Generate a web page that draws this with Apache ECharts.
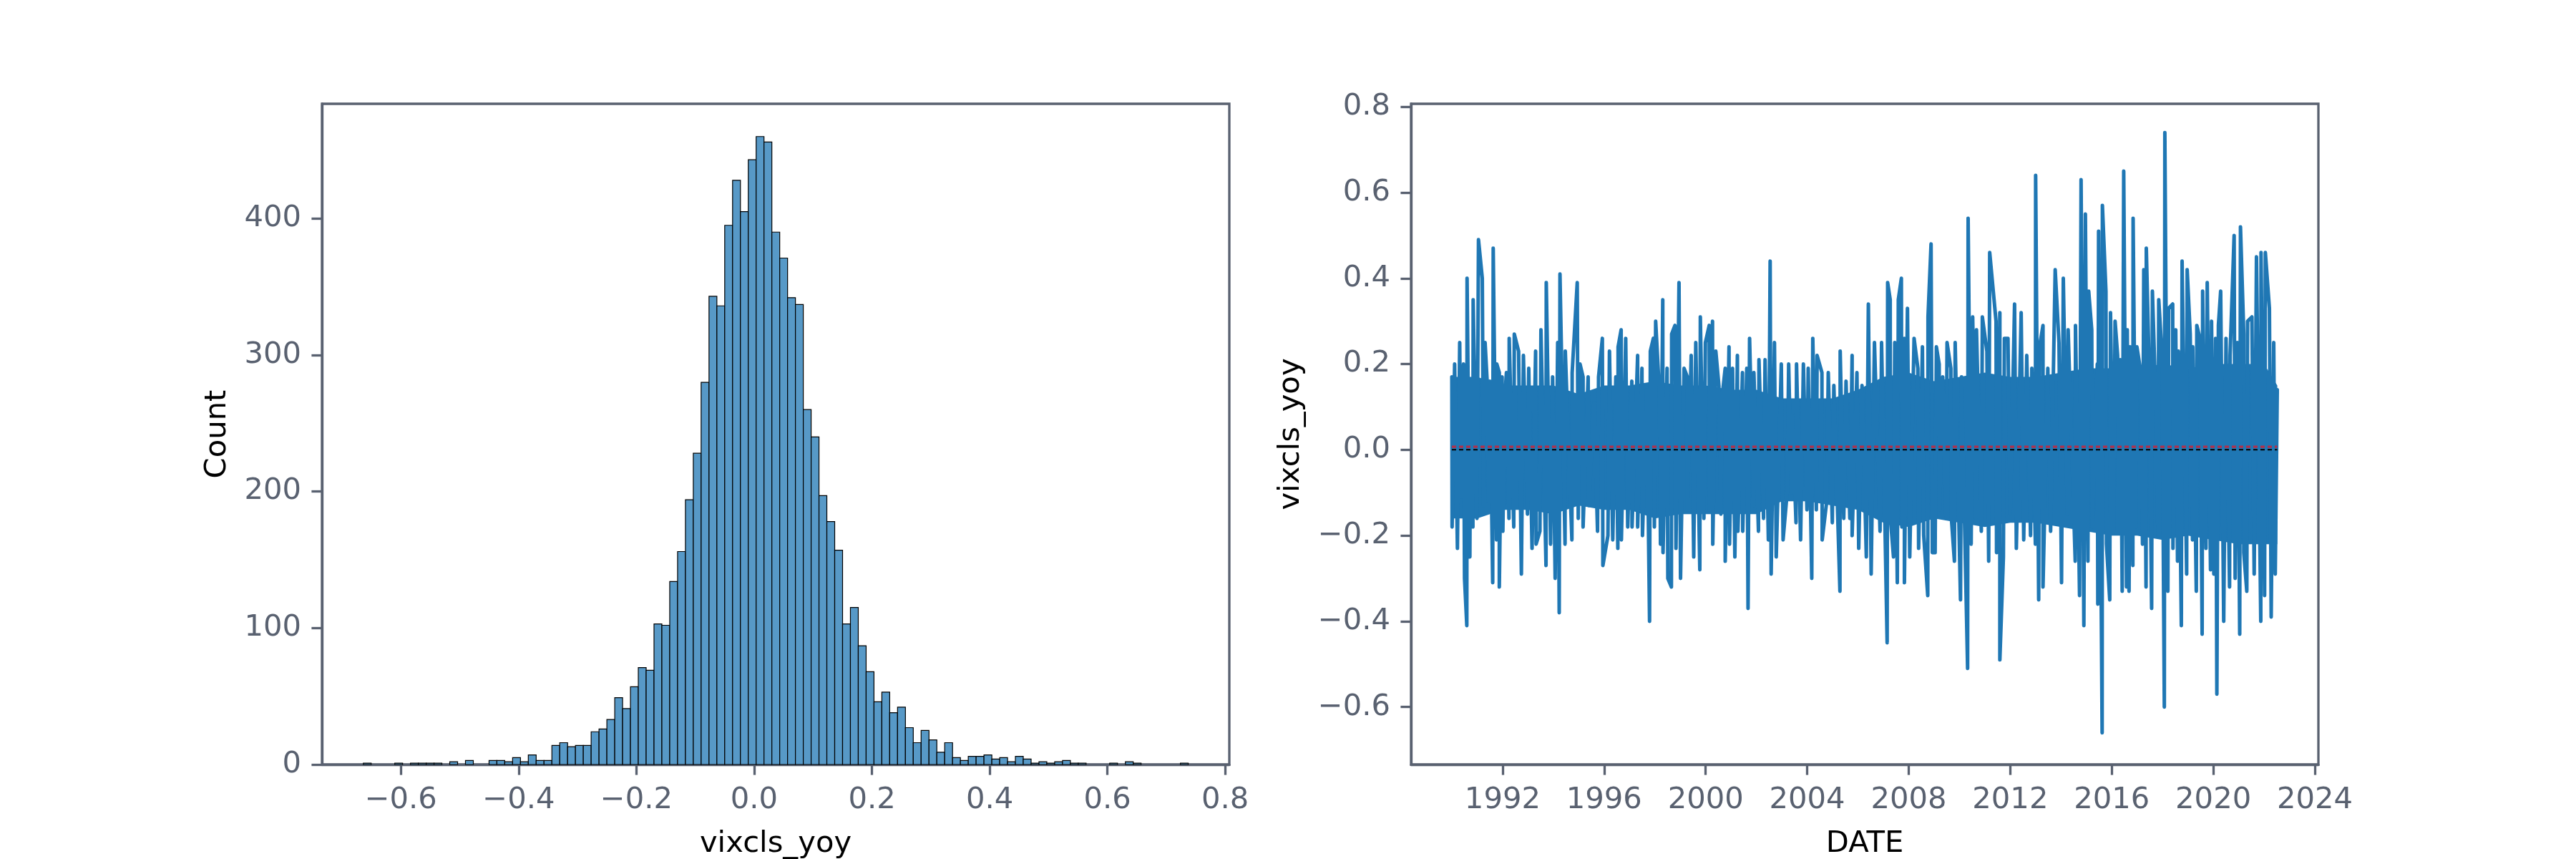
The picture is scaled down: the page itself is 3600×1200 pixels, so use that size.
<!DOCTYPE html>
<html><head><meta charset="utf-8">
<script src="https://cdn.jsdelivr.net/npm/echarts@6/dist/echarts.min.js"></script>
<style>html,body{margin:0;padding:0;background:#fff}#c{width:3600px;height:1200px}</style>
</head><body><div id="c"></div>
<script>
// ---------- histogram data (left panel) ----------
const histBinStart = -0.6638;
const histBinWidth = 0.013343;
const histCounts = [1,0,0,0,1,0,1,1,1,1,0,2,0,3,0,0,3,3,2,5,2,7,3,3,14,16,13,14,14,24,
  26,33,49,41,57,71,69,103,102,134,156,194,228,280,343,336,395,428,405,443,
  460,456,390,371,342,337,260,240,197,178,157,103,115,87,68,46,53,38,42,27,
  16,25,18,9,16,5,3,6,6,7,4,5,2,6,4,1,2,1,2,3,1,1,0,0,0,1,0,2,1,0,0,0,0,0,1];
const histXTicks = [-0.6,-0.4,-0.2,0,0.2,0.4,0.6,0.8];
const histYTicks = [0,100,200,300,400];

// ---------- time series (right panel) ----------
const yearTicks = [1992,1996,2000,2004,2008,2012,2016,2020,2024];
const yoyTicks = [-0.6,-0.4,-0.2,0,0.2,0.4,0.6,0.8];
// spike extremes: [decimal year, value]
const peakPoints = [
[1990.00,0.17],[1990.11,0.20],[1990.31,0.25],[1990.46,0.20],[1990.60,0.40],[1990.74,0.16],[1990.84,0.35],[1991.05,0.49],[1991.20,0.40],[1991.31,0.25],[1991.40,0.15],[1991.50,0.16],[1991.63,0.47],[1991.77,0.20],[1991.87,0.18],[1991.98,0.17],[1992.08,0.11],[1992.15,0.18],[1992.26,0.26],[1992.46,0.27],[1992.63,0.23],[1992.82,0.22],[1993.03,0.19],[1993.30,0.23],[1993.51,0.28],[1993.72,0.39],[1993.97,0.17],[1994.17,0.25],[1994.26,0.41],[1994.47,0.23],[1994.74,0.18],[1994.94,0.39],[1995.05,0.20],[1995.17,0.17],[1995.37,0.17],[1995.60,0.11],[1995.78,0.17],[1995.93,0.26],[1996.21,0.23],[1996.46,0.17],[1996.55,0.24],[1996.67,0.28],[1996.85,0.26],[1997.09,0.16],[1997.32,0.22],[1997.49,0.19],
[1997.68,0.14],[1997.82,0.23],[1997.94,0.26],[1998.03,0.30],[1998.18,0.13],[1998.31,0.35],[1998.48,0.19],[1998.66,0.27],[1998.79,0.29],[1998.95,0.39],[1999.15,0.19],[1999.28,0.17],[1999.43,0.22],[1999.61,0.25],[1999.79,0.31],[1999.99,0.25],[2000.14,0.29],[2000.27,0.30],[2000.40,0.23],[2000.52,0.15],[2000.64,0.12],[2000.77,0.19],[2000.92,0.24],[2001.06,0.19],[2001.25,0.22],[2001.45,0.18],[2001.62,0.19],[2001.73,0.26],[2001.90,0.18],[2002.10,0.21],[2002.34,0.21],[2002.54,0.44],[2002.71,0.25],[2002.98,0.20],[2003.27,0.20],[2003.41,0.08],[2003.58,0.20],[2003.85,0.20],[2004.04,0.19],[2004.22,0.26],[2004.39,0.22],[2004.58,0.18],[2004.83,0.18],[2005.05,0.15],[2005.30,0.23],[2005.53,0.16],[2005.77,0.22],[2005.96,0.18],[2006.16,0.15],[2006.41,0.34],[2006.65,0.25],
[2006.93,0.25],[2007.17,0.39],[2007.27,0.35],[2007.45,0.25],[2007.59,0.35],[2007.71,0.40],[2007.83,0.26],[2007.95,0.33],[2008.21,0.26],[2008.36,0.19],[2008.54,0.24],[2008.76,0.31],[2008.88,0.48],[2009.09,0.24],[2009.20,0.20],[2009.34,0.17],[2009.51,0.25],[2009.66,0.19],[2009.83,0.25],[2010.08,0.17],[2010.34,0.54],[2010.52,0.31],[2010.67,0.28],[2010.90,0.31],[2011.08,0.23],[2011.19,0.46],[2011.44,0.30],[2011.59,0.32],[2011.77,0.26],[2011.91,0.26],[2012.17,0.34],[2012.43,0.32],[2012.65,0.22],[2012.85,0.19],[2013.00,0.64],[2013.15,0.24],[2013.29,0.29],[2013.48,0.19],[2013.77,0.42],[2013.92,0.25],[2014.09,0.40],[2014.28,0.28],[2014.57,0.29],[2014.79,0.63],[2014.96,0.55],[2015.09,0.37],[2015.21,0.28],[2015.43,0.20],[2015.48,0.51],[2015.63,0.57],[2015.77,0.37],[2015.95,0.32],[2016.13,0.30],
[2016.23,0.22],[2016.34,0.21],[2016.47,0.65],[2016.61,0.28],[2016.72,0.24],[2016.84,0.54],[2016.99,0.24],[2017.12,0.19],[2017.26,0.42],[2017.36,0.47],[2017.46,0.22],[2017.60,0.37],[2017.71,0.16],[2017.85,0.35],[2017.98,0.22],[2018.09,0.74],[2018.24,0.33],[2018.40,0.34],[2018.52,0.28],[2018.62,0.23],[2018.77,0.44],[2018.97,0.42],[2019.09,0.27],[2019.19,0.24],[2019.35,0.29],[2019.47,0.26],[2019.58,0.37],[2019.76,0.39],[2019.93,0.30],[2020.09,0.26],[2020.20,0.29],[2020.29,0.37],[2020.50,0.26],[2020.66,0.22],[2020.82,0.50],[2020.95,0.25],[2021.07,0.52],[2021.20,0.27],[2021.35,0.30],[2021.52,0.31],[2021.70,0.45],[2021.88,0.46],[2022.05,0.46],[2022.21,0.33],[2022.38,0.25],[2022.52,0.14]
];
const troughPoints = [
[1990.01,-0.18],[1990.22,-0.23],[1990.36,-0.11],[1990.50,-0.30],[1990.59,-0.41],[1990.71,-0.25],[1990.83,-0.18],[1990.99,-0.16],[1991.25,-0.13],[1991.44,-0.12],[1991.61,-0.31],[1991.76,-0.21],[1991.87,-0.32],[1992.01,-0.19],[1992.25,-0.16],[1992.44,-0.18],[1992.74,-0.29],[1992.98,-0.15],[1993.16,-0.23],[1993.32,-0.22],[1993.47,-0.19],[1993.71,-0.27],[1993.89,-0.22],[1994.07,-0.30],[1994.23,-0.38],[1994.46,-0.22],[1994.73,-0.21],[1994.98,-0.16],[1995.17,-0.18],[1995.40,-0.13],[1995.74,-0.19],[1995.95,-0.27],[1996.15,-0.20],[1996.34,-0.21],[1996.54,-0.23],[1996.68,-0.21],[1996.93,-0.18],[1997.10,-0.18],[1997.32,-0.18],[1997.51,-0.20],
[1997.56,-0.20],[1997.79,-0.40],[1997.98,-0.18],[1998.22,-0.22],[1998.32,-0.24],[1998.51,-0.30],[1998.65,-0.32],[1998.83,-0.23],[1999.01,-0.30],[1999.28,-0.14],[1999.53,-0.25],[1999.77,-0.28],[1999.93,-0.16],[2000.15,-0.14],[2000.28,-0.22],[2000.60,-0.15],[2000.77,-0.26],[2000.94,-0.22],[2001.15,-0.25],[2001.27,-0.19],[2001.46,-0.19],[2001.67,-0.37],[2001.89,-0.13],[2002.08,-0.19],[2002.28,-0.16],[2002.47,-0.21],[2002.58,-0.29],[2002.78,-0.25],[2003.05,-0.21],[2003.21,-0.10],[2003.38,-0.10],[2003.56,-0.17],[2003.74,-0.21],[2003.99,-0.14],[2004.18,-0.30],[2004.36,-0.14],[2004.59,-0.21],[2004.77,-0.12],[2004.99,-0.17],[2005.29,-0.33],[2005.44,-0.16],[2005.68,-0.16],[2005.77,-0.20],[2006.03,-0.23],[2006.33,-0.25],[2006.52,-0.29],[2006.87,-0.19],
[2007.15,-0.45],[2007.28,-0.16],[2007.40,-0.25],[2007.55,-0.31],[2007.73,-0.18],[2007.83,-0.31],[2008.04,-0.25],[2008.39,-0.23],[2008.59,-0.20],[2008.75,-0.34],[2008.93,-0.24],[2009.04,-0.24],[2009.22,-0.14],[2009.47,-0.16],[2009.67,-0.15],[2009.80,-0.26],[2010.04,-0.35],[2010.32,-0.51],[2010.46,-0.22],[2010.65,-0.16],[2010.86,-0.19],[2011.15,-0.26],[2011.46,-0.24],[2011.59,-0.49],[2011.73,-0.25],[2012.00,-0.15],[2012.24,-0.23],[2012.53,-0.21],[2012.80,-0.20],[2012.99,-0.22],[2013.12,-0.35],[2013.29,-0.32],[2013.59,-0.19],[2014.02,-0.31],[2014.25,-0.15],[2014.56,-0.26],[2014.73,-0.34],[2014.90,-0.41],[2015.06,-0.26],[2015.24,-0.18],[2015.45,-0.36],[2015.62,-0.66],[2015.79,-0.22],[2015.92,-0.35],[2016.07,-0.19],
[2016.27,-0.19],[2016.41,-0.33],[2016.58,-0.32],[2016.68,-0.33],[2016.83,-0.27],[2016.95,-0.18],[2017.21,-0.22],[2017.35,-0.32],[2017.57,-0.37],[2017.82,-0.20],[2018.07,-0.60],[2018.21,-0.33],[2018.41,-0.23],[2018.59,-0.26],[2018.74,-0.41],[2018.95,-0.29],[2019.18,-0.21],[2019.33,-0.33],[2019.56,-0.43],[2019.71,-0.23],[2019.89,-0.28],[2020.02,-0.29],[2020.14,-0.57],[2020.41,-0.40],[2020.64,-0.32],[2020.86,-0.30],[2021.04,-0.43],[2021.20,-0.24],[2021.32,-0.33],[2021.61,-0.29],[2021.87,-0.40],[2022.02,-0.34],[2022.28,-0.39],[2022.44,-0.29]
];
// dense core of the daily series (solid band), read per year: upper / lower edge
const coreYears = [1990,1991,1992,1993,1994,1995,1996,1997,1998,1999,2000,2001,2002,2003,2004,2005,2006,2007,2008,2009,2010,2011,2012,2013,2014,2015,2016,2017,2018,2019,2020,2021,2022,2022.52];
const coreUpper = [0.17,0.17,0.15,0.15,0.15,0.13,0.15,0.15,0.16,0.15,0.15,0.14,0.14,0.12,0.12,0.12,0.14,0.17,0.18,0.16,0.17,0.18,0.17,0.17,0.18,0.19,0.19,0.19,0.20,0.19,0.20,0.20,0.20,0.15];
const coreLower = [-0.16,-0.16,-0.14,-0.14,-0.15,-0.13,-0.14,-0.14,-0.16,-0.15,-0.15,-0.15,-0.15,-0.12,-0.12,-0.13,-0.14,-0.17,-0.18,-0.16,-0.17,-0.18,-0.17,-0.17,-0.18,-0.19,-0.20,-0.20,-0.21,-0.20,-0.21,-0.22,-0.22,-0.22];
const seriesFirstYear = 1990.0;
const seriesLastYear = 2022.52;
const seriesMean = 0.007;

// ---------- styling ----------
const AX = '#596170';
const FONT = 'DejaVu Sans';
const FS = 41.7;
const minus = v => String(v).replace('-', '\u2212');
const fmt1 = v => minus((Math.round(v * 10) / 10).toFixed(1));

const histData = histCounts.map((c, i) => [histBinStart + i * histBinWidth, histBinStart + (i + 1) * histBinWidth, c]);
const lineData = peakPoints.concat(troughPoints).slice().sort((a, b) => a[0] - b[0]);

function axisCommon(ticks, fmt) {
  return {
    axisLine: { show: true, onZero: false, lineStyle: { color: AX, width: 3.3 } },
    axisTick: { show: true, length: 14.6, lineStyle: { color: AX, width: 3.3 }, customValues: ticks },
    axisLabel: { show: true, customValues: ticks, formatter: fmt, color: AX, fontFamily: FONT, fontSize: FS, margin: 29 },
    splitLine: { show: false },
    nameTextStyle: { color: '#000', fontFamily: FONT, fontSize: FS },
    nameLocation: 'middle'
  };
}

const chart = echarts.init(document.getElementById('c'), null, { renderer: 'canvas' });
chart.setOption({
  animation: false,
  backgroundColor: '#fff',
  grid: [
    { left: 450, top: 145, width: 1268, height: 923, show: true, borderColor: AX, borderWidth: 3.3, backgroundColor: 'transparent', containLabel: false, outerBoundsMode: 'none' },
    { left: 1972, top: 145, width: 1268, height: 923, show: true, borderColor: AX, borderWidth: 3.3, backgroundColor: 'transparent', containLabel: false, outerBoundsMode: 'none' }
  ],
  xAxis: [
    Object.assign(axisCommon(histXTicks, fmt1), { type: 'value', gridIndex: 0, min: -0.734, max: 0.807, name: 'vixcls_yoy', nameGap: 90 }),
    Object.assign(axisCommon(yearTicks, v => String(Math.round(v))), { type: 'value', gridIndex: 1, min: 1988.394, max: 2024.14, name: 'DATE', nameGap: 90 })
  ],
  yAxis: [
    Object.assign(axisCommon(histYTicks, v => String(Math.round(v))), { type: 'value', gridIndex: 0, min: 0, max: 484, name: 'Count', nameGap: 125 }),
    Object.assign(axisCommon(yoyTicks, fmt1), { type: 'value', gridIndex: 1, min: -0.734, max: 0.807, name: 'vixcls_yoy', nameGap: 147 })
  ],
  series: [
    {
      type: 'custom', xAxisIndex: 0, yAxisIndex: 0,
      data: histData,
      renderItem: function (params, api) {
        const c = api.value(2);
        if (!c) return null;
        const p0 = api.coord([api.value(0), c]);
        const p1 = api.coord([api.value(1), 0]);
        return {
          type: 'rect',
          shape: { x: p0[0], y: p0[1], width: p1[0] - p0[0], height: p1[1] - p0[1] },
          style: { fill: '#5799c7', stroke: '#000', lineWidth: 1.2 }
        };
      }
    },
    {
      type: 'custom', xAxisIndex: 1, yAxisIndex: 1, z: 1,
      data: [[seriesFirstYear, 0]],
      renderItem: function (params, api) {
        const pts = [];
        for (let i = 0; i < coreYears.length; i++) pts.push(api.coord([coreYears[i], coreUpper[i]]));
        for (let i = coreYears.length - 1; i >= 0; i--) pts.push(api.coord([coreYears[i], coreLower[i]]));
        return { type: 'polygon', shape: { points: pts }, style: { fill: '#1f77b4' } };
      }
    },
    {
      type: 'line', xAxisIndex: 1, yAxisIndex: 1,
      data: lineData, showSymbol: false, symbol: 'none',
      lineStyle: { color: '#1f77b4', width: 5, join: 'round', cap: 'round' },
      z: 2
    },
    {
      type: 'line', xAxisIndex: 1, yAxisIndex: 1,
      data: [[seriesFirstYear, 0], [seriesLastYear, 0]], symbol: 'none',
      lineStyle: { color: '#000', width: 2, type: [6, 4] }, z: 3
    },
    {
      type: 'line', xAxisIndex: 1, yAxisIndex: 1,
      data: [[seriesFirstYear, seriesMean], [seriesLastYear, seriesMean]], symbol: 'none',
      lineStyle: { color: '#b0304c', width: 3.3, type: [6, 4] }, z: 4
    }
  ]
});
</script></body></html>
